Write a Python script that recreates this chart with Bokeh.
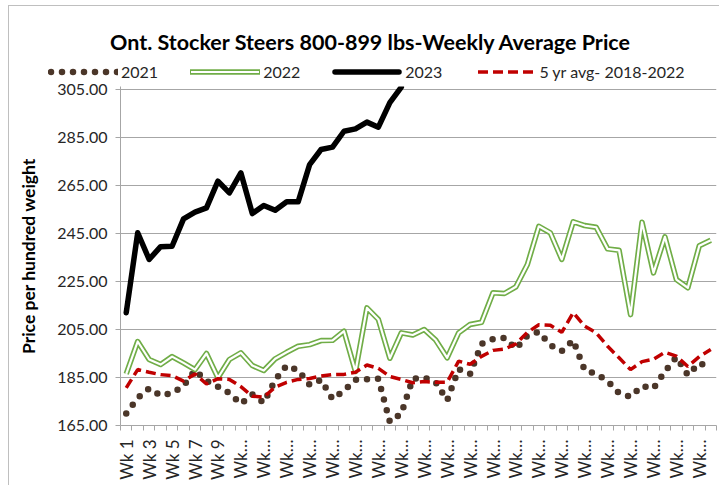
import math
from bokeh.plotting import figure
from bokeh.layouts import column
from bokeh.models import Range1d, FixedTicker, NumeralTickFormatter, Div
from bokeh.embed import file_html
from bokeh.resources import INLINE

# ---- data ----
weeks = list(range(1, 53))
weeks_2023 = list(range(1, 26))

y2021 = [170, 176.5, 180.5, 177.5, 178.5, 181.5, 188, 183.6, 181.2, 178.5,
         174, 178, 174.5, 184, 190, 188, 182, 184, 176, 179.5,
         184, 184.3, 184.5, 166.5, 170, 184.5, 185, 183, 175.5, 188.5,
         186.5, 199, 201, 201.5, 197, 202.5, 204, 198.5, 196, 200.5,
         188, 186.5, 183.5, 178.5, 177, 181.5, 180.5, 187.5, 193.5, 186,
         191, 189]

y2022 = [186.5, 200, 192.5, 190.4, 193.7, 191.1, 188.3, 195, 184.9, 192.5,
         195.3, 190, 187.9, 192.8, 195.5, 198, 198.7, 200.4, 200.5, 204.3,
         187.5, 214, 209.2, 193, 203.6, 202.7, 205, 200.6, 193.2, 203.6,
         207.1, 208, 220.3, 220, 222.8, 232.1, 248, 245.3, 234.2, 249.9,
         248.3, 247.6, 238.6, 238, 211.2, 249.7, 228.6, 243.6, 225.8, 222.4,
         239.9, 242.2]

y2023 = [212, 245.3, 234.2, 239.5, 239.7, 251.1, 253.9, 255.7, 266.8, 261.9,
         270.3, 253.3, 256.7, 254.7, 258.2, 258.2, 273.7, 280, 281, 287.6,
         288.6, 291.4, 289.3, 299.5, 306]

y5yr = [180.7, 188.3, 187.2, 186.2, 185.8, 183.5, 186.5, 182.3, 184.5, 184.2,
        181.2, 177.2, 176.8, 181, 183, 184.2, 184.6, 185.6, 186.2, 186.3,
        187.2, 190.2, 188.8, 185.4, 184.2, 182.8, 183.3, 183, 183, 191.8,
        190.5, 193.8, 196.3, 196.8, 199, 203.8, 207, 206.8, 203.8, 212,
        206.4, 203.6, 198, 193.2, 188.3, 191.6, 192.6, 195.5, 193.9, 189.6,
        193.7, 196.7]

y_ticks = [165, 185, 205, 225, 245, 265, 285, 305]
label_weeks = list(range(1, 53, 2))
x_tick_labels = {w: ("Wk %d" % w if w <= 9 else "Wk\u2026") for w in label_weeks}
series_names = ["2021", "2022", "2023", "5 yr avg- 2018-2022"]
title_text = "Ont. Stocker Steers 800-899 lbs-Weekly Average Price"

FONT = "Lato"
TXT = "#262626"
C21, C22, C23, C5 = "#4b3629", "#70ad47", "#000000", "#c00000"

# ---- header (title + legend) ----
def key_svg(kind):
    if kind == 0:
        inner = ('<line x1="3" y1="8" x2="70" y2="8" stroke="%s" stroke-width="6.5" '
                 'stroke-dasharray="0 11" stroke-linecap="round"/>' % C21)
    elif kind == 1:
        inner = ('<line x1="1" y1="8" x2="69" y2="8" stroke="%s" stroke-width="5.5" '
                 'stroke-linecap="round"/><line x1="1" y1="8" x2="69" y2="8" '
                 'stroke="#ffffff" stroke-width="2.2"/>' % C22)
    elif kind == 2:
        inner = ('<line x1="3" y1="8" x2="67" y2="8" stroke="%s" stroke-width="5.5" '
                 'stroke-linecap="round"/>' % C23)
    else:
        inner = ('<line x1="0" y1="8" x2="58" y2="8" stroke="%s" stroke-width="3.5" '
                 'stroke-dasharray="10 5"/>' % C5)
    w = 58 if kind == 3 else 70
    return ('<svg width="%d" height="16" style="display:block">%s</svg>' % (w, inner))

items_html = "".join(
    '<div style="display:flex;align-items:center;%s">%s'
    '<span style="margin-left:3px;">%s</span></div>'
    % ("margin-left:4px;" if i == 3 else "", key_svg(i), name)
    for i, name in enumerate(series_names))

header_html = (
    '<div style="position:relative;width:719px;height:80px;font-family:Lato;">'
    '<div style="position:absolute;left:0;top:29px;width:740px;text-align:center;'
    'font-size:21.5px;font-weight:bold;line-height:26px;color:#000;">%s</div>'
    '<div style="position:absolute;left:48px;top:62px;display:flex;gap:32px;'
    'font-size:16px;line-height:20px;color:%s;white-space:nowrap;">%s</div>'
    '</div>' % (title_text, TXT, items_html))
hdr = Div(text=header_html, width=719, height=80, margin=0)

# ---- main chart ----
p = figure(width=719, height=405, output_backend="svg", toolbar_location=None,
           x_range=Range1d(0.5, 52.5), y_range=Range1d(165, 306.25),
           min_border_left=120, min_border_right=3, min_border_bottom=60,
           min_border_top=6)
p.outline_line_color = None
p.border_fill_color = None

xt = FixedTicker(ticks=label_weeks, minor_ticks=[w - 0.5 for w in range(1, 54)])
p.xaxis.ticker = xt
p.xaxis.major_label_overrides = x_tick_labels
p.xaxis.major_label_orientation = math.pi / 2
p.xaxis.major_tick_out = 0
p.xaxis.major_tick_in = 0
p.xaxis.major_label_standoff = 9
p.xaxis.minor_tick_out = 5
p.xaxis.minor_tick_in = 0
p.xaxis.minor_tick_line_color = "#a6a6a6"
p.xaxis.axis_line_color = "#a6a6a6"
p.xaxis.major_label_text_font = FONT
p.xaxis.major_label_text_font_size = "17px"
p.xaxis.major_label_text_color = TXT
p.xgrid.visible = False

yt = FixedTicker(ticks=y_ticks, minor_ticks=[])
p.yaxis.ticker = yt
p.ygrid.ticker = yt
p.yaxis.formatter = NumeralTickFormatter(format="0.00")
p.yaxis.major_tick_out = 5
p.yaxis.major_tick_in = 0
p.yaxis.major_tick_line_color = "#a6a6a6"
p.yaxis.axis_line_color = "#a6a6a6"
p.yaxis.major_label_standoff = 8
p.yaxis.major_label_text_font = FONT
p.yaxis.major_label_text_font_size = "16px"
p.yaxis.major_label_text_color = TXT
p.yaxis.axis_label = "Price per hundred weight"
p.yaxis.axis_label_text_font = FONT
p.yaxis.axis_label_text_font_size = "17.5px"
p.yaxis.axis_label_text_font_style = "bold"
p.yaxis.axis_label_text_color = "#000000"
p.yaxis.axis_label_standoff = 15
p.ygrid.grid_line_color = "#a6a6a6"
p.ygrid.grid_line_width = 1

p.line(weeks, y2021, line_color=C21, line_width=6.5,
       line_dash="0 11", line_cap="round", line_join="round")
p.line(weeks, y2022, line_color=C22, line_width=5.5, line_join="round")
p.line(weeks, y2022, line_color="#ffffff", line_width=2.2, line_join="round")
p.line(weeks_2023, y2023, line_color=C23, line_width=5.5,
       line_join="round", line_cap="round")
p.line(weeks, y5yr, line_color=C5, line_width=3.5, line_dash="10 5")

layout = column(hdr, p, spacing=0)
layout.styles = {
    "background": ("linear-gradient(#bfbfbf,#bfbfbf) 8px 5px / 1px 100% no-repeat,"
                   "linear-gradient(#bfbfbf,#bfbfbf) 8px 5px / 100% 1px no-repeat,"
                   "#ffffff"),
}
open("out.html", "w").write(file_html(layout, INLINE))
